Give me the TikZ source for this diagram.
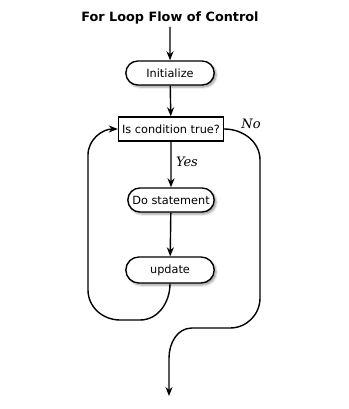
\documentclass[tikz,border=0pt]{standalone}
\usepackage{fontspec}
\setmainfont{DejaVu Sans}
\newfontfamily\branchfont{DejaVu Serif}
\usetikzlibrary{arrows.meta,shapes.misc,shadows.blur}

\begin{document}
\begin{tikzpicture}[x=1pt,y=1pt,line width=1.4pt,
    >={Stealth[length=9pt,width=7pt]}]

      \useasboundingbox (0,0) rectangle (348,-409);

      \node (title) at (170,-18) {\fontsize{12.8}{14}\selectfont\bfseries For Loop Flow of Control};
      \coordinate (start) at (170,-27);
      \coordinate (exit)  at (169,-396);

      \begin{scope}[every node/.style={font=\fontsize{11.3}{13}\selectfont,
          rounded rectangle,draw,fill=white,minimum height=24pt,
          blur shadow={shadow xshift=2pt,shadow yshift=-2pt,shadow blur steps=6}}]
        \node[minimum width=95pt] (init)   at (170,-73)  {Initialize};
        \node[minimum width=93pt] (stmt)   at (171,-200) {Do statement};
        \node[minimum width=95pt,minimum height=26pt] (update) at (170,-270) {update};
      \end{scope}

      \node[draw,fill=white,font=\fontsize{11.3}{13}\selectfont,inner sep=2pt,
        minimum width=105pt,minimum height=24pt] (cond) at (171,-129) {Is condition true?};

      \begin{scope}[every node/.style={font=\fontsize{13}{14}\selectfont\branchfont\itshape}]
        \draw[->] (start) -- (init);
        \draw[->] (init) -- (cond);
        \draw[->] (cond) -- node[right,pos=.45,xshift=1pt] {Yes} (stmt);
        \draw[->] (stmt) -- (update);
        % back to the test
        \draw[->] (update.south) to[out=-90,in=0] (140,-320) -- (120,-320)
          to[out=180,in=-90] (88,-290) -- (88,-155) to[out=90,in=180] (cond.west);
        % leave the loop
        \draw[->] (cond.east) to[out=0,in=90] (260,-160)
          -- (260,-298) to[out=-90,in=0] (230,-328) -- (192,-328)
          to[out=180,in=90] (169,-358) -- (exit);
        \node (no) at (251,-124) {No};
      \end{scope}

    \end{tikzpicture}
\end{document}
